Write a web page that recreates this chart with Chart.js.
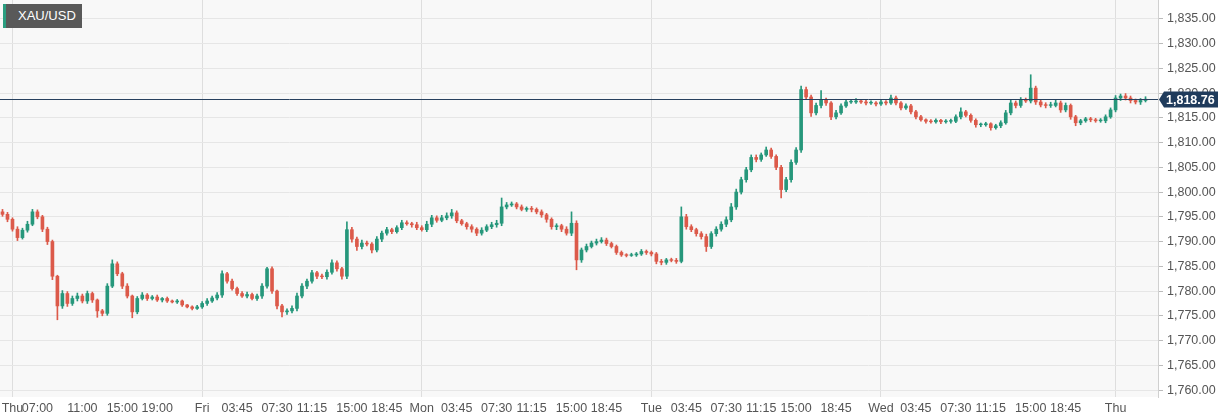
<!DOCTYPE html>
<html>
<head>
<meta charset="utf-8">
<script src="https://cdn.jsdelivr.net/npm/chart.js@4"></script>
<style>
body{margin:0;background:#fff;font-family:"Liberation Sans",Arial,sans-serif;}
#wrap{position:relative;width:1229px;height:420px;}
#tag{position:absolute;left:3px;top:4px;height:24px;width:79px;background:#595959;color:#fff;font-size:13px;line-height:24px;box-sizing:border-box;padding-left:12px;border-left:3px solid #2a9d7f;}
</style>
</head>
<body>
<div id="wrap">
<canvas id="c" width="1229" height="420"></canvas>
<div id="tag">XAU/USD</div>
</div>
<script>
// XAU/USD candles

var closes = [
 1795.5,1794.5,1792.5,1790.8,1792.3,1793.5,1796,1795,1792.5,1790,
 1783,1777,1779.5,1777.5,1778.5,1779,1778,1779.5,1778.2,1776,
 1775.5,1781,1785.5,1783.5,1781,1779,1775.8,1778.5,1779.2,1778.5,
 1778.8,1778.2,1778.5,1778,1777.8,1778,1777.2,1776.8,1776.5,1776.8,
 1777.5,1778,1778.6,1779.2,1783.5,1782,1780.5,1779.5,1779,1779.3,
 1778.5,1779,1781,1784.5,1780,1777,1775.8,1776,1776.5,1779,
 1781,1782,1783.7,1783,1782.9,1783.8,1785.7,1784.5,1783,1792.4,
 1790.5,1789,1789.7,1789.5,1788.3,1790.5,1791.7,1792.4,1792,1792.8,
 1793.8,1793.6,1793.4,1792.8,1792.4,1793.5,1794.8,1794.3,1794.8,1795.2,
 1795.8,1794.2,1793.6,1793,1792.5,1791.7,1792.3,1793,1793.4,1793.7,
 1797,1797.4,1797.6,1797,1796.5,1796.7,1796.5,1796,1795.4,1794.5,
 1793,1793.2,1792.5,1791.7,1793.7,1786.3,1788.3,1789,1789.7,1790,
 1790.3,1789.6,1789,1787.8,1787.3,1787.2,1787.3,1787.5,1788,1787.8,
 1787.5,1786,1785.8,1786.3,1786.2,1786,1795,1793,1792.4,1791.6,
 1791,1789,1791.6,1792.5,1793.5,1794.4,1797,1800,1802.5,1804.5,
 1807,1806.6,1807.5,1808.5,1807.2,1805,1800.5,1802.5,1806,1808.5,
 1820.7,1819.2,1816,1817.5,1818.6,1818,1815.2,1816,1817.4,1818.2,
 1818.2,1818.4,1818.2,1818,1818,1817.8,1818.2,1818,1819,1818,
 1817,1817.4,1816.2,1815.2,1814.6,1814.3,1814.2,1814.5,1814.2,1814.3,
 1814.3,1815.2,1816.2,1815.5,1814.5,1813.6,1813.6,1813.8,1813,1813.4,
 1814,1816,1818,1817.5,1818.6,1818.4,1821,1818.2,1817.6,1817.5,
 1817.5,1818,1816.6,1817.5,1815.2,1814,1814.4,1814.8,1814.6,1814.4,
 1814.4,1815.2,1816.6,1819,1819.4,1819,1818.5,1818.2,1818.5,1818.76
];
var firstOpen = 1796;

// wick lengths above / below the body
var wickHi = [
 0.5,0.4,0.3,0.5,0.4,0.6,0.5,0.4,0.3,0.4,
 0.3,0.2,0.6,0.4,0.5,0.6,0.4,0.5,0.3,0.2,
 0.3,0.5,0.8,0.4,0.3,0.5,0.2,0.4,0.5,0.3,
 0.3,0.4,0.2,0.3,0.2,0.3,0.2,0.1,0.2,0.3,
 0.4,0.5,0.4,0.5,0.6,0.3,0.4,0.3,0.4,0.5,
 0.3,0.4,0.5,0.3,0.4,0.2,0.3,0.4,0.5,0.6,
 0.5,0.4,0.5,0.3,0.4,0.5,0.6,0.4,0.3,1.6,
 0.5,0.4,0.6,0.4,0.3,0.5,0.4,0.5,0.3,0.4,
 0.5,0.4,0.3,0.5,0.4,0.6,0.5,0.4,0.5,0.6,
 0.7,0.4,0.3,0.3,0.4,0.3,0.5,0.4,0.5,0.6,
 1.8,0.5,0.4,0.3,0.4,0.3,0.4,0.3,0.4,0.3,
 0.3,0.4,0.3,0.5,2.3,0.5,0.4,0.5,0.4,0.5,
 0.5,0.4,0.3,0.3,0.3,0.2,0.3,0.3,0.4,0.3,
 0.3,0.3,0.4,0.3,0.3,0.4,2.0,0.5,0.4,0.3,
 0.4,0.5,0.4,0.5,0.5,0.6,0.7,0.6,0.5,0.5,
 0.5,0.5,0.4,0.6,0.4,0.3,0.4,0.5,0.5,0.5,
 0.7,0.5,0.4,0.5,1.9,0.4,0.3,0.5,0.4,0.5,
 0.4,0.5,0.3,0.4,0.3,0.3,0.4,0.3,0.6,0.4,
 0.3,0.4,0.3,0.3,0.3,0.2,0.3,0.3,0.2,0.3,
 0.3,0.4,0.8,0.3,0.3,0.3,0.2,0.3,0.2,0.3,
 0.4,0.5,0.6,0.4,0.5,0.4,2.7,0.4,0.5,0.4,
 0.5,0.6,0.4,0.5,0.3,0.3,0.3,0.3,0.3,0.3,
 0.3,0.4,0.4,0.5,0.4,0.5,0.4,0.3,0.4,0.5
];
var wickLo = [
 0.4,0.5,0.4,0.6,0.3,0.4,0.3,0.4,0.5,0.6,
 0.7,2.8,0.5,0.6,0.4,0.5,0.4,0.5,0.5,1.3,
 0.5,0.4,0.3,0.4,0.5,0.4,1.2,0.4,0.3,0.4,
 0.3,0.3,0.4,0.3,0.2,0.3,0.3,0.2,0.3,0.2,
 0.3,0.4,0.3,0.4,0.5,0.4,0.3,0.4,0.3,0.4,
 0.3,0.4,0.5,0.4,0.5,0.6,1.0,0.5,0.4,0.5,
 0.4,0.5,0.4,0.5,0.4,0.5,0.4,0.5,0.6,0.5,
 0.6,0.8,0.5,0.4,0.6,0.4,0.5,0.4,0.4,0.3,
 0.4,0.3,0.5,0.4,0.3,0.4,0.5,0.4,0.3,0.4,
 0.5,0.4,0.3,0.5,0.6,0.5,0.4,0.3,0.4,0.5,
 0.5,0.4,0.3,0.4,0.3,0.4,0.5,0.4,0.5,0.6,
 0.5,0.6,0.5,0.4,0.5,2.0,0.5,0.4,0.3,0.4,
 0.3,0.4,0.3,0.4,0.3,0.3,0.2,0.3,0.3,0.4,
 0.4,0.5,0.5,0.4,0.3,0.4,0.3,0.5,0.4,0.5,
 0.5,1.0,0.4,0.5,0.4,0.5,0.4,0.5,0.4,0.5,
 0.4,0.5,0.4,0.3,0.4,0.5,1.7,0.4,0.5,0.4,
 0.5,0.4,0.7,0.4,0.5,0.5,0.6,0.4,0.3,0.3,
 0.3,0.3,0.3,0.4,0.3,0.4,0.3,0.4,0.3,0.4,
 0.4,0.3,0.4,0.4,0.3,0.4,0.3,0.3,0.4,0.3,
 0.4,0.3,0.4,0.3,0.4,0.5,0.4,0.3,0.5,0.3,
 0.4,0.3,0.4,0.5,0.4,0.3,0.4,0.5,0.4,0.5,
 0.4,0.3,0.5,0.4,0.5,0.6,0.4,0.3,0.4,0.3,
 0.3,0.4,0.3,0.4,0.5,0.4,0.5,0.4,0.5,0.3
];

// time axis labels and the candle index they sit at
var timeLabels = ["Thu","07:00","11:00","15:00","19:00","Fri","03:45","07:30","11:15","15:00","18:45","Mon","03:45","07:30","11:15","15:00","18:45","Tue","03:45","07:30","11:15","15:00","18:45","Wed","03:45","07:30","11:15","15:00","18:45","Thu"];
var timePos = [2,7,16,24,31,40,47,55,62,70,77,84,91,99,106,114,121,130,137,145,152,159,167,176,183,191,198,206,213,223];
var dayNames = ["Thu","Fri","Mon","Tue","Wed"];

var priceTicks = [1760,1765,1770,1775,1780,1785,1790,1795,1800,1805,1810,1815,1820,1825,1830,1835];

var UP = "#26977b", DOWN = "#dc5a4a";
var SLOTS = 232;

var labels = [], bodies = [], wicks = [], cols = [];
for (var i = 0; i < SLOTS; i++) {
    var k = timePos.indexOf(i);
    labels.push(k >= 0 ? timeLabels[k] : "");
}
for (var i = 0; i < closes.length; i++) {
    var o = i == 0 ? firstOpen : closes[i-1];
    var c = closes[i];
    var hi = Math.max(o, c), lo = Math.min(o, c);
    if (hi - lo < 0.15) hi = lo + 0.15;
    bodies.push([lo, hi]);
    wicks.push([lo - wickLo[i], hi + wickHi[i]]);
    cols.push(c >= o ? UP : DOWN);
}
var last = closes[closes.length-1];

function fmt(v){
    return v.toLocaleString("en-US",{minimumFractionDigits:2,maximumFractionDigits:2});
}

// axis labels drawn by hand so the plot can reach the edges
var axisText = {
    id: "axisText",
    afterDraw: function(chart){
        var ctx = chart.ctx, a = chart.chartArea;
        ctx.save();
        ctx.fillStyle = "#555";
        ctx.font = "12.5px 'Liberation Sans', Arial";
        ctx.textBaseline = "middle";
        ctx.textAlign = "left";
        priceTicks.forEach(function(v){
            ctx.fillText(fmt(v), a.right + 9, chart.scales.y.getPixelForValue(v));
        });
        ctx.textAlign = "center";
        timePos.forEach(function(p, k){
            ctx.fillText(timeLabels[k], chart.scales.x.getPixelForValue(p), a.bottom + 12);
        });
        ctx.restore();
    }
};

var lastPrice = {
    id: "lastPrice",
    afterDraw: function(chart){
        var ctx = chart.ctx, a = chart.chartArea;
        var y = Math.round(chart.scales.y.getPixelForValue(last)) + 0.5;
        ctx.save();
        ctx.strokeStyle = "#27405e";
        ctx.lineWidth = 1;
        ctx.beginPath(); ctx.moveTo(a.left, y); ctx.lineTo(a.right, y); ctx.stroke();
        ctx.fillStyle = "#1f3b5c";
        ctx.beginPath();
        ctx.moveTo(a.right + 1, y);
        ctx.lineTo(a.right + 6, y - 8);
        ctx.lineTo(a.right + 60, y - 8);
        ctx.lineTo(a.right + 60, y + 8);
        ctx.lineTo(a.right + 6, y + 8);
        ctx.closePath(); ctx.fill();
        ctx.fillStyle = "#fff";
        ctx.font = "bold 12.5px 'Liberation Sans', Arial";
        ctx.textBaseline = "middle";
        ctx.fillText(fmt(last), a.right + 8, y + 1);
        ctx.restore();
    }
};

var plotBg = {
    id: "plotBg",
    beforeDraw: function(chart){
        var a = chart.chartArea;
        chart.ctx.fillStyle = "#f8f8f8";
        chart.ctx.fillRect(a.left, a.top, a.right - a.left, a.bottom - a.top);
    }
};

new Chart(
document.getElementById("c"),
{
    type:"bar",
    data:{
        labels: labels,
        datasets:[
            {data: wicks, backgroundColor: cols, barThickness: 1, grouped: false, order: 2},
            {data: bodies, backgroundColor: cols, barThickness: 3, grouped: false, order: 1}
        ]
    },
    options:{
        responsive:false,
        animation:false,
        layout:{padding:0},
        plugins:{legend:{display:false}, tooltip:{enabled:false}},
        scales:{
            x:{
                afterFit: function(s){ s.height = 23; },
                ticks:{display:false, autoSkip:false},
                grid:{
                    drawTicks:false, offset:false,
                    color: function(ctx){
                        return dayNames.indexOf(labels[ctx.index]) >= 0 ? "#dedede" : "transparent";
                    }
                },
                border:{display:false}
            },
            y:{
                position:"right", min:1758.6, max:1838.8,
                afterBuildTicks: function(s){ s.ticks = priceTicks.map(function(v){return {value:v};}); },
                afterFit: function(s){ s.width = 71; },
                ticks:{display:false},
                grid:{color:"#e6e6e6", tickLength:5, tickColor:"#bbb"},
                border:{color:"#d0d0d0"}
            }
        }
    },
    plugins:[plotBg, axisText, lastPrice]
});
</script>
</body>
</html>
